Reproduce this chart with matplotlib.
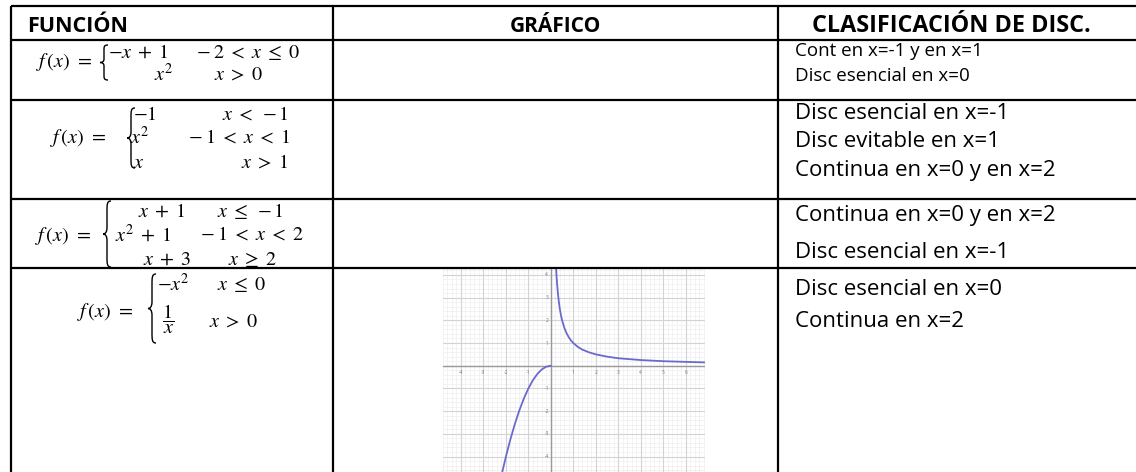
import matplotlib
matplotlib.use("Agg")
import matplotlib.pyplot as plt
from matplotlib.path import Path
from matplotlib.patches import PathPatch

plt.rcParams['font.family'] = ['Open Sans', 'DejaVu Sans']
plt.rcParams['mathtext.fontset'] = 'stix'

# datos de la tabla
headers = ["FUNCIÓN", "GRÁFICO", "CLASIFICACIÓN DE DISC."]
clasif = [
    ["Cont en x=-1 y en x=1", "Disc esencial en x=0"],
    ["Disc esencial en x=-1", "Disc evitable en x=1", "Continua en x=0 y en x=2"],
    ["Continua en x=0 y en x=2", "Disc esencial en x=-1"],
    ["Disc esencial en x=0", "Continua en x=2"],
]
# piezas de cada funcion: (expresion, condicion)
funciones = [
    [(r"$-x\;+\;1$", r"$-\;2\;<\;x\;\leq\;0$"), (r"$x^2$", r"$x\;>\;0$")],
    [(r"$-1$", r"$x\;<\;-1$"), (r"$x^2$", r"$-\;1\;<\;x\;<\;1$"), (r"$x$", r"$x\;>\;1$")],
    [(r"$x\;+\;1$", r"$x\;\leq\;-1$"), (r"$x^2\;+\;1$", r"$-\;1\;<\;x\;<\;2$"),
     (r"$x\;+\;3$", r"$x\;\geq\;2$")],
    [(r"$-x^2$", r"$x\;\leq\;0$"), (r"$\dfrac{1}{x}$", r"$x\;>\;0$")],
]

# grafico de la fila 4
izq_x = [-2.16, -2.0, -1.8, -1.6, -1.4, -1.2, -1.0, -0.8, -0.6, -0.4, -0.2, 0.0]
izq_y = [-4.67, -4.0, -3.24, -2.56, -1.96, -1.44, -1.0, -0.64, -0.36, -0.16, -0.04, 0.0]
der_x = [0.23, 0.25, 0.28, 0.32, 0.36, 0.4, 0.45, 0.5, 0.6, 0.7, 0.8, 0.9, 1.0,
         1.2, 1.4, 1.7, 2.0, 2.5, 3.0, 3.5, 4.0, 5.0, 6.0, 6.9]
der_y = [4.35, 4.0, 3.57, 3.13, 2.78, 2.5, 2.22, 2.0, 1.67, 1.43, 1.25, 1.11, 1.0,
         0.83, 0.71, 0.59, 0.5, 0.4, 0.33, 0.29, 0.25, 0.2, 0.17, 0.145]
xticks = [-4, -3, -2, -1, 1, 2, 3, 4, 5, 6]
yticks = [-4, -3, -2, -1, 1, 2, 3, 4]

W, H = 1136, 472
fig = plt.figure(figsize=(W / 100, H / 100), dpi=100, facecolor='white')

# --- grafico pequeño ---
gx0, gx1, gy0 = 443, 705, 269
g = fig.add_axes([gx0 / W, 0, (gx1 - gx0) / W, (H - gy0) / H], zorder=1)
g.set_xlim(-4.8, 6.86)
g.set_ylim(-4.68, 4.26)
for v in [i * 0.2 for i in range(-25, 36)]:
    g.axvline(v, color='#eeeeee', lw=0.5, zorder=0)
for v in [i * 0.2 for i in range(-24, 22)]:
    g.axhline(v, color='#eeeeee', lw=0.5, zorder=0)
for v in range(-4, 7):
    g.axvline(v, color='#d3d3d3', lw=0.8, zorder=0)
for v in range(-4, 5):
    g.axhline(v, color='#d3d3d3', lw=0.8, zorder=0)
g.axhline(0, color='#9a9a9a', lw=1.0, zorder=1)
g.axvline(0, color='#9a9a9a', lw=1.0, zorder=1)
g.plot(izq_x, izq_y, color='#6a6acc', lw=1.3, zorder=3)
g.plot(der_x, der_y, color='#6a6acc', lw=1.3, zorder=3)
for t in xticks:
    g.text(t, -0.3, str(t), fontsize=3.5, color='#777777', ha='center', va='center')
for t in yticks:
    g.text(-0.18, t, str(t), fontsize=3.5, color='#777777', ha='center', va='center')
g.set_xticks([])
g.set_yticks([])
for s in g.spines.values():
    s.set_visible(False)

# --- tabla ---
ax = fig.add_axes([0, 0, 1, 1], zorder=2)
ax.set_facecolor('none')
ax.set_xlim(0, W)
ax.set_ylim(H, 0)
ax.axis('off')

lineas_h = [6, 39.5, 99.5, 199, 268]
lineas_v = [11, 332.5, 778]
for y in lineas_h:
    ax.plot([11, W], [y, y], color='black', lw=1.6, solid_capstyle='butt')
for x in lineas_v:
    ax.plot([x, x], [6, H], color='black', lw=1.6, solid_capstyle='butt')

ax.text(27, 32, headers[0], fontsize=15.5, fontweight='bold', ha='left', va='baseline')
ax.text(555, 32, headers[1], fontsize=15, fontweight='bold', ha='center', va='baseline')
ax.text(951, 32, headers[2], fontsize=16.8, fontweight='bold', ha='center', va='baseline')

base_clasif = [[56, 81], [119, 147, 176], [221, 258], [295, 327]]
tam_clasif = [13.5, 16, 16, 16]
for fila, ys, fs in zip(clasif, base_clasif, tam_clasif):
    for txt, y in zip(fila, ys):
        ax.text(795, y, txt, fontsize=fs, ha='left', va='baseline')


def llave(x, top, bot, w=8):
    mid = (top + bot) / 2
    h = bot - top
    xm = x + w / 2
    verts = [(x + w, top),
             (xm, top), (xm, top + 0.05 * h), (xm, top + 0.15 * h),
             (xm, mid - 0.1 * h),
             (xm, mid - 0.03 * h), (x + 0.3 * w, mid), (x, mid),
             (x + 0.3 * w, mid), (xm, mid + 0.03 * h), (xm, mid + 0.1 * h),
             (xm, bot - 0.15 * h),
             (xm, bot - 0.05 * h), (xm, bot), (x + w, bot)]
    codes = [Path.MOVETO,
             Path.CURVE4, Path.CURVE4, Path.CURVE4,
             Path.LINETO,
             Path.CURVE4, Path.CURVE4, Path.CURVE4,
             Path.CURVE4, Path.CURVE4, Path.CURVE4,
             Path.LINETO,
             Path.CURVE4, Path.CURVE4, Path.CURVE4]
    ax.add_patch(PathPatch(Path(verts, codes), fc='none', ec='black', lw=1.0))


# posiciones de las formulas (pixeles)
fx_pos = [(36, 62), (50, 138), (35, 236), (77, 312)]
llaves = [(100, 45, 80), (127, 108, 168), (103, 201, 267), (148, 274, 343)]
expr_pos = [
    [(108, 53, 'left'), (173, 75, 'right')],
    [(133, 115, 'left'), (130, 138, 'left'), (133, 163, 'left')],
    [(138, 212, 'left'), (115, 235, 'left'), (143, 260, 'left')],
    [(157, 285, 'left'), (168, 319, 'center')],
]
cond_pos = [
    [(248, 53), (238, 75)],
    [(289, 115), (290, 138), (288, 163)],
    [(250, 212), (252, 235), (252, 260)],
    [(241, 285), (233, 322)],
]

for k, piezas in enumerate(funciones):
    ax.text(fx_pos[k][0], fx_pos[k][1], r"$f\,(x)\ =$", fontsize=14.5, ha='left', va='center')
    llave(*llaves[k])
    for j, (e, c) in enumerate(piezas):
        ex, ey, eha = expr_pos[k][j]
        ax.text(ex, ey, e, fontsize=14.5, ha=eha, va='center')
        cx, cy = cond_pos[k][j]
        ax.text(cx, cy, c, fontsize=14.5, ha='right' if k == 1 else 'center', va='center')

fig.savefig("out.png", dpi=100, facecolor='white')
